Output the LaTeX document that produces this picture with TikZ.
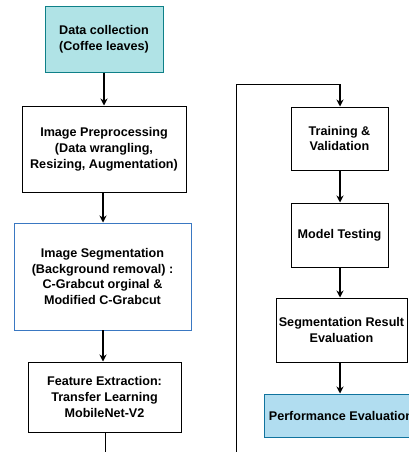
\documentclass[tikz,border=0pt]{standalone}
\usepackage{fontspec}
\setmainfont{Liberation Sans}
\usetikzlibrary{arrows.meta}
\definecolor{tealfill}{HTML}{B0E3E6}
\definecolor{tealline}{HTML}{0E8088}
\definecolor{bluefill}{HTML}{B1DDF0}
\definecolor{blueline}{HTML}{10739E}
\definecolor{segline}{HTML}{3A78C2}
\tikzset{
  box/.style={draw=black, line width=1pt, fill=white, inner sep=0pt, align=center,
    font=\fontsize{12.6}{15.8}\selectfont\bfseries},
  flow/.style={line width=1.1pt, -{Stealth[length=7pt,width=7pt]}},
  link/.style={line width=1pt}
}
\begin{document}
\begin{tikzpicture}[x=1pt,y=-1pt]
\useasboundingbox (0,0) rectangle (409,452);
\clip (0,0) rectangle (409,452);

% left column
\node[box, fill=tealfill, draw=tealline, minimum width=118pt, minimum height=65pt] (collect) at (104,39.5)
  {Data collection\\(Coffee leaves)};
\node[box, minimum width=164pt, minimum height=86pt] (prep) at (104,149)
  {Image Preprocessing\\(Data wrangling,\\Resizing, Augmentation)};
\node[box, draw=segline, minimum width=177pt, minimum height=107pt] (seg) at (102.5,276.5)
  {Image Segmentation\\(Background removal) :\\C-Grabcut orginal \&\\Modified C-Grabcut};
\node[box, minimum width=153pt, minimum height=70pt] (feat) at (104.5,397)
  {Feature Extraction:\\Transfer Learning\\MobileNet-V2};

% right column
\node[box, minimum width=97pt, minimum height=63pt] (train) at (339.5,138.5)
  {Training \&\\Validation};
\node[box, minimum width=97pt, minimum height=64pt] (test) at (339.5,235)
  {Model Testing};
\node[box, minimum width=131pt, minimum height=64pt] (result) at (341.5,330)
  {Segmentation Result\\Evaluation};
\node[box, fill=bluefill, draw=blueline, minimum width=154pt, minimum height=43pt] (perf) at (341,415.5)
  {Performance Evaluation};

% connector leaving the left column and re-entering at the top right
\coordinate (leftend) at (105,460);
\coordinate (riseb) at (236,460);
\coordinate (riset) at (236,84);
\coordinate (topin) at (340,84);

\draw[flow] (collect.south) -- (collect.south |- prep.north);
\draw[flow] (103,192) -- (103,222.5);
\draw[flow] (103,330) -- (103,361.5);
\draw[link] (105,432) -- (leftend);
\draw[link] (riseb) -- (riset) -- (topin);
\draw[flow] (topin) -- (topin |- train.north);
\draw[flow] (340,170) -- (340,202.5);
\draw[flow] (340,267) -- (340,297.5);
\draw[flow] (340,362) -- (340,393.5);
\end{tikzpicture}
\end{document}
